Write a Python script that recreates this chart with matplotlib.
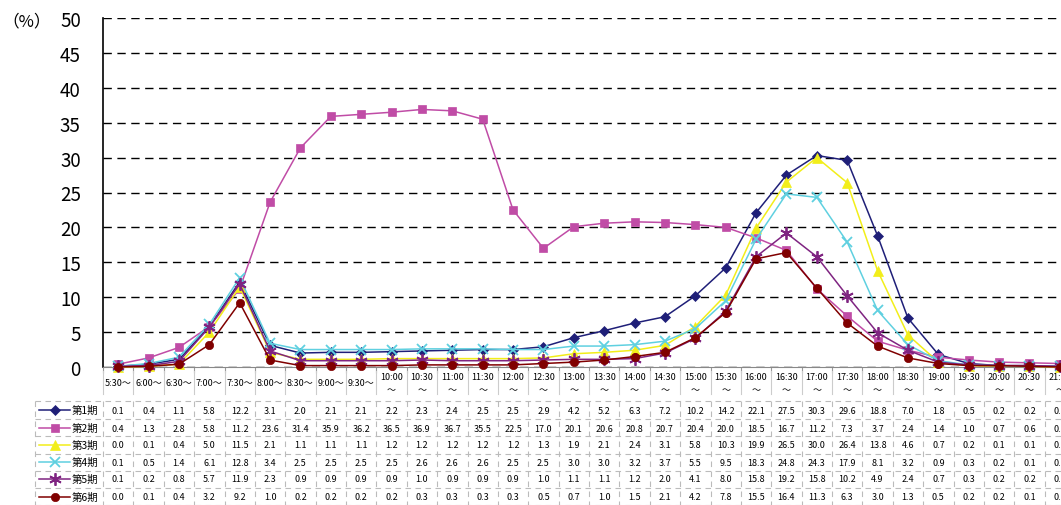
import matplotlib
matplotlib.use("Agg")
import matplotlib.pyplot as plt
from matplotlib.lines import Line2D
from matplotlib.transforms import blended_transform_factory

plt.rcParams["font.family"] = ["Noto Sans CJK JP", "DejaVu Sans"]

TIMES = ["5:30", "6:00", "6:30", "7:00", "7:30", "8:00", "8:30", "9:00", "9:30",
         "10:00", "10:30", "11:00", "11:30", "12:00", "12:30", "13:00", "13:30",
         "14:00", "14:30", "15:00", "15:30", "16:00", "16:30", "17:00", "17:30",
         "18:00", "18:30", "19:00", "19:30", "20:00", "20:30", "21:00"]

KI1 = [0.1, 0.4, 1.1, 5.8, 12.2, 3.1, 2.0, 2.1, 2.1, 2.2, 2.3, 2.4, 2.5, 2.5, 2.9, 4.2,
       5.2, 6.3, 7.2, 10.2, 14.2, 22.1, 27.5, 30.3, 29.6, 18.8, 7.0, 1.8, 0.5, 0.2, 0.2, 0.1]
KI2 = [0.4, 1.3, 2.8, 5.8, 11.2, 23.6, 31.4, 35.9, 36.2, 36.5, 36.9, 36.7, 35.5, 22.5, 17.0, 20.1,
       20.6, 20.8, 20.7, 20.4, 20.0, 18.5, 16.7, 11.2, 7.3, 3.7, 2.4, 1.4, 1.0, 0.7, 0.6, 0.5]
KI3 = [0.0, 0.1, 0.4, 5.0, 11.5, 2.1, 1.1, 1.1, 1.1, 1.2, 1.2, 1.2, 1.2, 1.2, 1.3, 1.9,
       2.1, 2.4, 3.1, 5.8, 10.3, 19.9, 26.5, 30.0, 26.4, 13.8, 4.6, 0.7, 0.2, 0.1, 0.1, 0.0]
KI4 = [0.1, 0.5, 1.4, 6.1, 12.8, 3.4, 2.5, 2.5, 2.5, 2.5, 2.6, 2.6, 2.6, 2.5, 2.5, 3.0,
       3.0, 3.2, 3.7, 5.5, 9.5, 18.3, 24.8, 24.3, 17.9, 8.1, 3.2, 0.9, 0.3, 0.2, 0.1, 0.1]
KI5 = [0.1, 0.2, 0.8, 5.7, 11.9, 2.3, 0.9, 0.9, 0.9, 0.9, 1.0, 0.9, 0.9, 0.9, 1.0, 1.1,
       1.1, 1.2, 2.0, 4.1, 8.0, 15.8, 19.2, 15.8, 10.2, 4.9, 2.4, 0.7, 0.3, 0.2, 0.2, 0.1]
KI6 = [0.0, 0.1, 0.4, 3.2, 9.2, 1.0, 0.2, 0.2, 0.2, 0.2, 0.3, 0.3, 0.3, 0.3, 0.5, 0.7,
       1.0, 1.5, 2.1, 4.2, 7.8, 15.5, 16.4, 11.3, 6.3, 3.0, 1.3, 0.5, 0.2, 0.2, 0.1, 0.0]

SERIES = [
    ("第1期", KI1, "#1f1f78", "D", 5),
    ("第2期", KI2, "#c04ca6", "s", 6),
    ("第3期", KI3, "#f2ee1a", "^", 7),
    ("第4期", KI4, "#5fd0e0", "x", 7),
    ("第5期", KI5, "#7f2481", (6, 2, 0), 9),
    ("第6期", KI6, "#800000", "o", 6),
]

W, H = 1061, 506
fig = plt.figure(figsize=(W / 100, H / 100), dpi=100)

# axes area in pixels (the chart runs past the right edge of the picture)
X0, X1, Y0, Y1 = 103, 1075, 368, 19
ax = fig.add_axes([X0 / W, 1 - Y0 / H, (X1 - X0) / W, (Y0 - Y1) / H])

x = list(range(len(TIMES)))
for nome, vals, cor, mk, ms in SERIES:
    ax.plot(x, vals, color=cor, marker=mk, markersize=ms, linewidth=1.1,
            markeredgewidth=1.3 if mk in ("x",) or isinstance(mk, tuple) else 0.5,
            markeredgecolor=cor, clip_on=False, zorder=3)

ax.set_xlim(-0.5, len(TIMES) - 0.5)
ax.set_ylim(0, 50)
ax.set_yticks(range(0, 51, 5))
ax.tick_params(axis="y", labelsize=13.5, length=0, pad=16)
ax.yaxis.grid(True, linestyle=(0, (6, 4)), color="black", linewidth=1)
ax.set_axisbelow(True)
ax.set_xticks([i - 0.5 for i in range(len(TIMES) + 1)])
ax.set_xticklabels([])
ax.tick_params(axis="x", direction="out", length=4, color="#999999")
for s in ("top", "right"):
    ax.spines[s].set_visible(False)
ax.spines["left"].set_linewidth(1.2)
ax.spines["bottom"].set_color("#888888")
fig.text(2 / W, 1 - 22 / H, "（%）", fontsize=12, va="center", ha="left")

# data table below the chart
def ypix(p):
    return (Y0 - p) / (Y0 - Y1)

tr = blended_transform_factory(ax.transData, ax.transAxes)

for i, t in enumerate(TIMES):
    if i < 9:
        ax.text(i, ypix(383), t + "～", transform=tr, ha="center", va="center", fontsize=6.5)
    else:
        ax.text(i, ypix(377), t, transform=tr, ha="center", va="center", fontsize=6.5)
        ax.text(i, ypix(391), "～", transform=tr, ha="center", va="center", fontsize=6.5)
    ax.add_line(Line2D([i - 0.5, i - 0.5], [ypix(372), ypix(395)], transform=tr,
                       color="#cccccc", linewidth=0.8, clip_on=False))

row_y = [411, 429, 446, 463, 480, 498]
lines_y = [402, 420, 437, 455, 472, 489, 506]
for yy in lines_y:
    fig.add_artist(Line2D([35 / W, X1 / W], [1 - yy / H, 1 - yy / H],
                          color="#bbbbbb", linewidth=0.8, linestyle=(0, (5, 4))))
for i in range(len(TIMES) + 1):
    ax.add_line(Line2D([i - 0.5, i - 0.5], [ypix(402), ypix(506)], transform=tr,
                       color="#bbbbbb", linewidth=0.8, linestyle=(0, (5, 4)),
                       clip_on=False))
fig.add_artist(Line2D([35 / W, 35 / W], [1 - 402 / H, 0], color="#bbbbbb",
                      linewidth=0.8, linestyle=(0, (5, 4))))

for (nome, vals, cor, mk, ms), yy in zip(SERIES, row_y):
    fy = 1 - yy / H
    fig.add_artist(Line2D([39 / W, 70 / W], [fy, fy], color=cor, linewidth=1.1))
    fig.add_artist(Line2D([55 / W], [fy], color=cor, marker=mk, markersize=ms,
                          markeredgecolor=cor,
                          markeredgewidth=1.3 if mk == "x" or isinstance(mk, tuple) else 0.5))
    fig.text(72 / W, fy, nome, fontsize=7.5, va="center", ha="left")
    for i, v in enumerate(vals):
        ax.text(i, ypix(yy), f"{v:.1f}", transform=tr, ha="center", va="center",
                fontsize=6.5)

fig.savefig("out.png", dpi=100)
